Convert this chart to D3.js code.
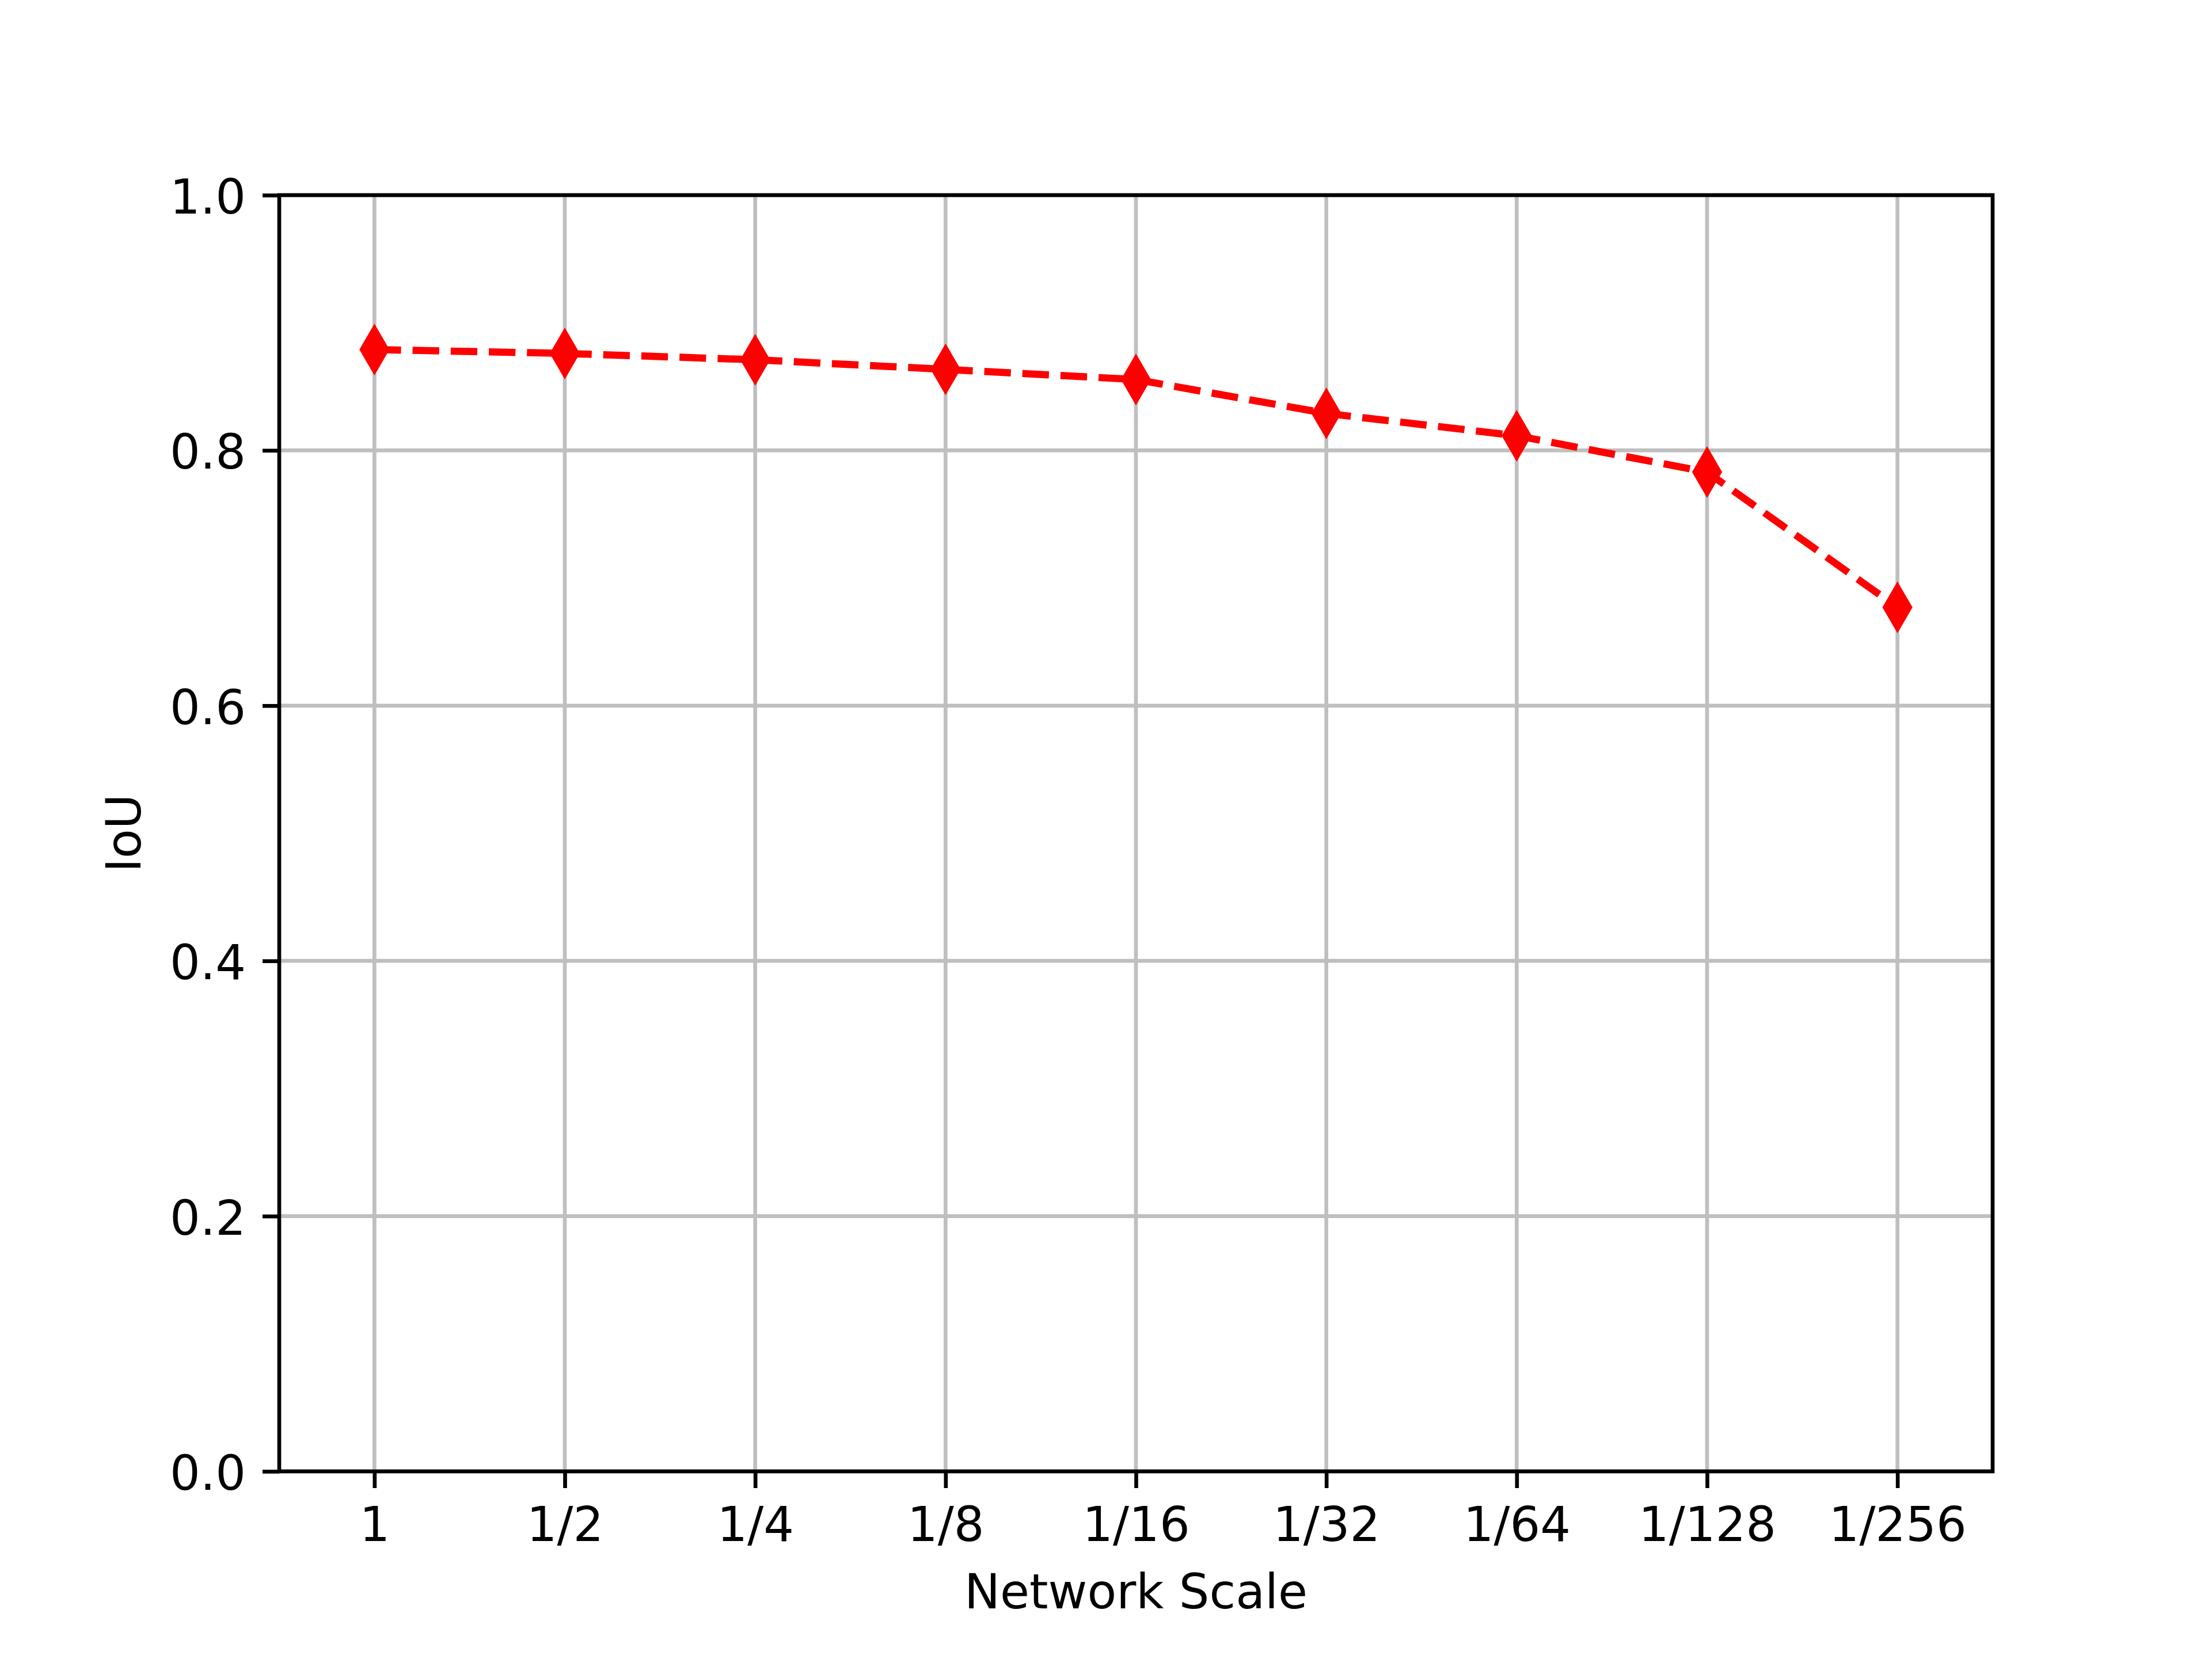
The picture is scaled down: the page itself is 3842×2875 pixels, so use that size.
<!DOCTYPE html>
<html>
<head>
<meta charset="utf-8">
<script src="https://cdn.jsdelivr.net/npm/d3@7"></script>
<style>
  html, body { margin: 0; padding: 0; background: #ffffff; }
  svg { display: block; }
  text { font-family: "DejaVu Sans", sans-serif; }
</style>
</head>
<body>
<script>
// ---- data ----
const categories = ["1", "1/2", "1/4", "1/8", "1/16", "1/32", "1/64", "1/128", "1/256"];
const iouValues = [0.879, 0.876, 0.871, 0.8635, 0.8555, 0.829, 0.8115, 0.783, 0.677];
const yTicks = [0.0, 0.2, 0.4, 0.6, 0.8, 1.0];
const xLabel = "Network Scale";
const yLabel = "IoU";

(function () {
// ---- layout ----
const W = 3842, H = 2875;
const pLeft = 485, pRight = 3461, pTop = 339, pBottom = 2556;
const lw = 6.67;       // 0.8pt at 600dpi
const tickLen = 29;
const tickPad = 29;
const fontSize = 83;

const svg = d3.select("body").append("svg")
  .attr("width", W).attr("height", H)
  .attr("viewBox", `0 0 ${W} ${H}`);

svg.append("rect").attr("width", W).attr("height", H).attr("fill", "#ffffff");

const x = d3.scalePoint().domain(categories).range([pLeft, pRight]).padding(0.5);
const y = d3.scaleLinear().domain([0, 1]).range([pBottom, pTop]);

// grid
const gridColor = "#bfbfbf";
const grid = svg.append("g");
grid.selectAll("line.gx").data(categories).enter().append("line")
  .attr("x1", d => x(d)).attr("x2", d => x(d))
  .attr("y1", pTop).attr("y2", pBottom)
  .attr("stroke", gridColor).attr("stroke-width", lw);
grid.selectAll("line.gy").data(yTicks).enter().append("line")
  .attr("x1", pLeft).attr("x2", pRight)
  .attr("y1", d => y(d)).attr("y2", d => y(d))
  .attr("stroke", gridColor).attr("stroke-width", lw);

// data line
const pts = categories.map((c, i) => ({ c, v: iouValues[i] }));
svg.append("path")
  .datum(pts)
  .attr("d", d3.line().x(d => x(d.c)).y(d => y(d.v)))
  .attr("fill", "none")
  .attr("stroke", "#ff0000")
  .attr("stroke-width", 12.5)
  .attr("stroke-dasharray", "46.25,20")
  .attr("stroke-linecap", "butt")
  .attr("stroke-linejoin", "round");

// thin diamond markers
const mh = 43, mw = 25;
svg.append("g").selectAll("path").data(pts).enter().append("path")
  .attr("d", d => {
    const cx = x(d.c), cy = y(d.v);
    return `M${cx},${cy - mh}L${cx + mw},${cy}L${cx},${cy + mh}L${cx - mw},${cy}Z`;
  })
  .attr("fill", "#ff0000")
  .attr("stroke", "#ff0000")
  .attr("stroke-width", 2);

// axes
const xAxis = d3.axisBottom(x).tickSize(tickLen).tickPadding(tickPad);
const yAxis = d3.axisLeft(y).tickValues(yTicks).tickFormat(d3.format(".1f"))
  .tickSize(tickLen).tickPadding(tickPad);

const gx = svg.append("g").attr("transform", `translate(0,${pBottom})`).call(xAxis);
const gy = svg.append("g").attr("transform", `translate(${pLeft},0)`).call(yAxis);

[gx, gy].forEach(g => {
  g.select(".domain").remove();
  g.selectAll(".tick line").attr("stroke", "#000").attr("stroke-width", lw);
  g.selectAll(".tick text")
    .attr("fill", "#000")
    .style("font-family", "'DejaVu Sans', sans-serif")
    .style("font-size", fontSize + "px");
});
gx.selectAll(".tick text").attr("y", tickLen + tickPad).attr("dy", "0.76em");
gy.selectAll(".tick text").attr("dy", "0.38em");

// spines
svg.append("rect")
  .attr("x", pLeft).attr("y", pTop)
  .attr("width", pRight - pLeft).attr("height", pBottom - pTop)
  .attr("fill", "none").attr("stroke", "#000").attr("stroke-width", lw)
  .attr("stroke-linejoin", "miter");

// axis labels
svg.append("text")
  .attr("x", (pLeft + pRight) / 2).attr("y", 2794)
  .attr("text-anchor", "middle")
  .style("font-size", fontSize + "px")
  .attr("fill", "#000")
  .text(xLabel);

svg.append("text")
  .attr("transform", `translate(244,${(pTop + pBottom) / 2}) rotate(-90)`)
  .attr("text-anchor", "middle")
  .style("font-size", fontSize + "px")
  .attr("fill", "#000")
  .text(yLabel);
})();
</script>
</body>
</html>
